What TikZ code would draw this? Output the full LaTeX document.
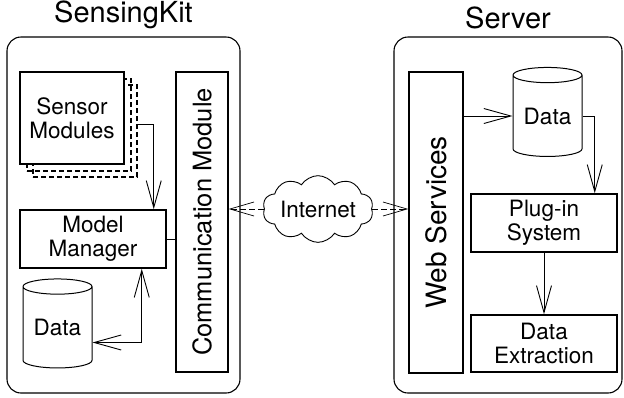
\documentclass[tikz,border=0pt]{standalone}
\usepackage{fontspec}
\setmainfont{TeX Gyre Heros}
\usepackage{tikz}
\usetikzlibrary{positioning,shapes.geometric,shapes.symbols,arrows.meta,calc}

\tikzset{
  container/.style={draw, rounded corners=14pt, line width=1.1pt, inner sep=0pt},
  title/.style={font=\fontsize{29}{30}\selectfont, inner sep=0pt},
  block/.style={draw, fill=white, line width=1.5pt, align=center, inner sep=0pt,
    font=\fontsize{22.5}{24}\selectfont},
  shadowbox/.style={draw, line width=1.4pt, dash pattern=on 5pt off 3pt, inner sep=0pt},
  store/.style={draw, cylinder, shape border rotate=90, aspect=0.32, line width=1pt,
    inner sep=0pt, minimum width=69pt, minimum height=89pt, font=\fontsize{22.5}{24}\selectfont},
  link/.style={line width=0.9pt, -{Straight Barb[length=27pt,width=15pt,line width=0.9pt]}},
  both/.style={line width=0.9pt, {Straight Barb[length=27pt,width=15pt,line width=0.9pt]}-{Straight Barb[length=27pt,width=15pt,line width=0.9pt]}},
  net/.style={line width=0.9pt, dash pattern=on 6pt off 3pt, -{Straight Barb[length=24pt,width=14pt,line width=0.7pt]}}
}

\begin{document}
\begin{tikzpicture}[x=1pt, y=-1pt]
    \useasboundingbox (0,0) rectangle (624,397);

    % the two boxes
    \node[container, minimum width=233pt, minimum height=356pt] (kit) at (123.5,215) {};
    \node[container, minimum width=228pt, minimum height=356pt] (srv) at (508,215) {};
    \node[title, above=7pt of kit] {SensingKit};
    \node[title, above=7pt of srv] {Server};

    % phone side
    \node[shadowbox, minimum width=104pt, minimum height=92pt] (sensors2) at (85,131) {};
    \node[shadowbox, minimum width=104pt, minimum height=92pt] (sensors1) at (79,125) {};
    \node[block, minimum width=104pt, minimum height=92pt] (sensors) at (72,118) {Sensor\\Modules};
    \node[block, minimum width=146pt, minimum height=58pt] (mm) at (93,239) {Model\\Manager};
    \node[store] (dataL) at (57.5,327.5) {Data};
    \node[block, minimum width=300pt, minimum height=52pt, rotate=90,
      font=\fontsize{25.5}{27}\selectfont] (comm) at (202,222) {Communication Module};

    \coordinate (mmin) at ([xshift=-13pt]mm.north east);
    \draw[link] ([yshift=7pt]sensors2.east) -| (mmin);
    \coordinate (mmout) at ([xshift=-25pt]mm.south east);
    \draw[both] ([yshift=-15pt]dataL.east) -| (mmout);
    \draw[line width=0.9pt] (mm.east) -- (mm.east -| comm.north);

    % internet
    \node[draw, cloud, cloud puffs=10, cloud puff arc=115, aspect=2.1, fill=white,
      line width=0.9pt, inner sep=0pt, minimum width=110pt, minimum height=55pt,
      font=\fontsize{22.5}{24}\selectfont] (cloud) at (318,209) {Internet};

    % server side
    \node[block, minimum width=301pt, minimum height=54pt, rotate=90,
      font=\fontsize{28}{30}\selectfont] (web) at (436,222.5) {Web Services};
    \node[store] (dataR) at (547.5,116) {Data};
    \node[block, minimum width=146pt, minimum height=58pt] (plug) at (544,223) {Plug-in\\System};
    \node[block, minimum width=146pt, minimum height=57pt] (ext) at (544,343.5) {Data\\Extraction};

    \draw[net] (cloud.west) -- (cloud.west -| comm.south);
    \draw[net] (cloud.east) -- (cloud.east -| web.north);

    \draw[link] (web.south |- dataR.west) -- (dataR.west);
    \coordinate (plugin) at ([xshift=-23pt]plug.north east);
    \draw[link] (dataR.east) -| (plugin);
    \draw[link] (plug.south) -- (ext.north);
\end{tikzpicture}
\end{document}
